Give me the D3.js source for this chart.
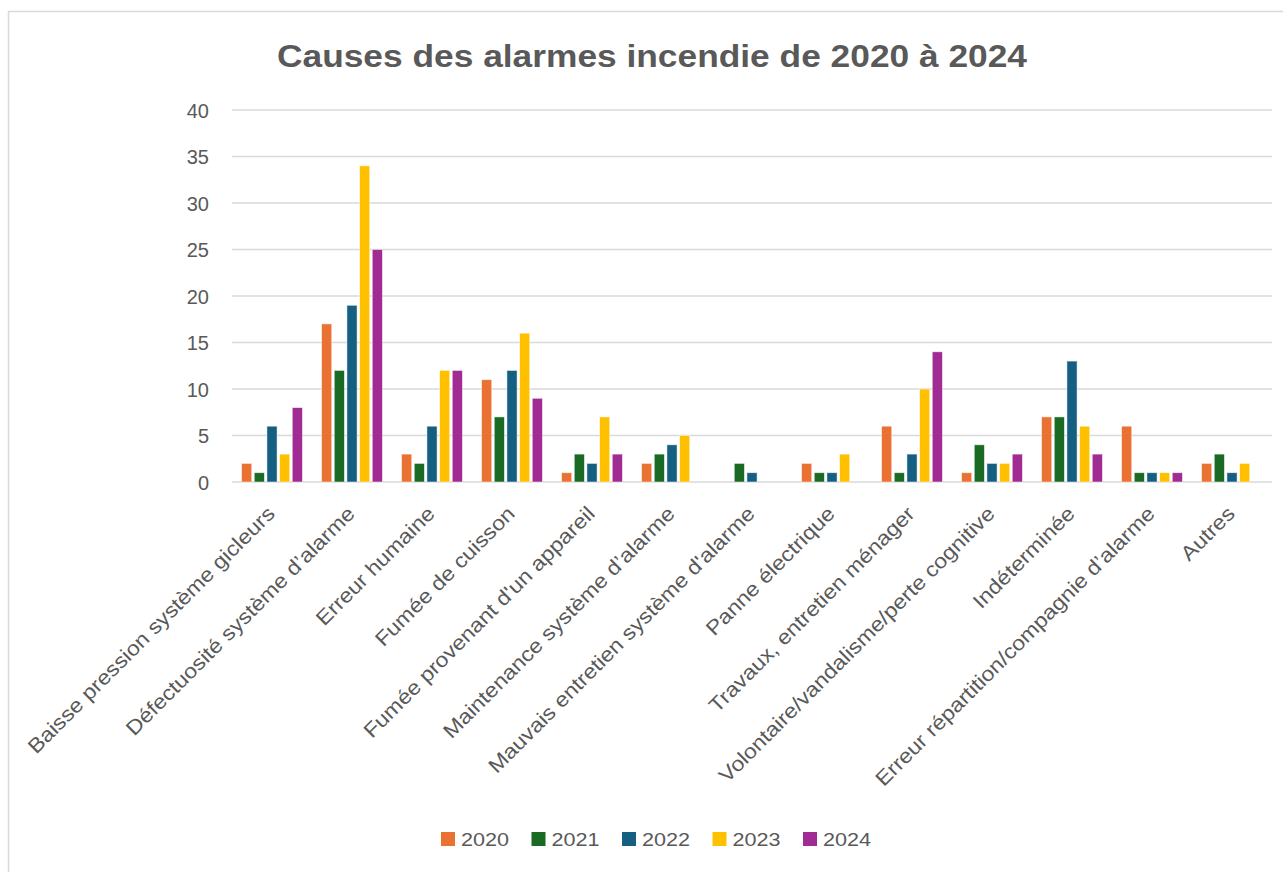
<!DOCTYPE html>
<html><head><meta charset="utf-8">
<script src="https://cdn.jsdelivr.net/npm/d3@7"></script>
<style>body{margin:0;background:#fff;} text{font-family:"Liberation Sans",Arial,sans-serif;}</style>
</head><body>
<svg id="c" width="1283" height="872"></svg>
<script>
const categories = ["Baisse pression système gicleurs","Défectuosité système d’alarme","Erreur humaine","Fumée de cuisson","Fumée provenant d'un appareil","Maintenance système d’alarme","Mauvais entretien système d'alarme","Panne électrique","Travaux, entretien ménager","Volontaire/vandalisme/perte cognitive","Indéterminée","Erreur répartition/compagnie d’alarme","Autres"];
const years = ["2020","2021","2022","2023","2024"];
const v2020 = [2,17,3,11,1,2,0,2,6,1,7,6,2];
const v2021 = [1,12,2,7,3,3,2,1,1,4,7,1,3];
const v2022 = [6,19,6,12,2,4,1,1,3,2,13,1,1];
const v2023 = [3,34,12,16,7,5,0,3,10,2,6,1,2];
const v2024 = [8,25,12,9,3,0,0,0,14,3,3,1,0];
const yTicks = [0,5,10,15,20,25,30,35,40];
const colors = ["#E97132","#196B24","#156082","#FFC000","#A02B93"];
const series = [v2020,v2021,v2022,v2023,v2024];

const svg = d3.select("#c");
const W=1283,H=872;
const pL=232,pR=1272,pT=110,pB=482;
svg.append("path").attr("d",`M8.5,${H}V11.5H${W}`).attr("fill","none").attr("stroke","#d9d9d9").attr("stroke-width",1.5);

const x0 = d3.scaleBand().domain(categories).range([pL,pR]).paddingInner(0.24).paddingOuter(0.12);
const x1 = d3.scaleBand().domain(years).range([0,x0.bandwidth()]).paddingInner(0.2);
const y = d3.scaleLinear().domain([0,40]).range([pB,pT]);

// grid
svg.append("g").selectAll("line").data(yTicks).join("line")
  .attr("x1",pL).attr("x2",pR).attr("y1",d=>y(d)).attr("y2",d=>y(d))
  .attr("stroke","#d9d9d9").attr("stroke-width",1.3);

// y labels
const ya = svg.append("g").attr("transform",`translate(${pL-23},0)`)
  .call(d3.axisLeft(y).tickValues(yTicks).tickSize(0).tickPadding(0));
ya.select(".domain").remove();
ya.selectAll("text").attr("font-size",20).attr("fill","#595959").attr("font-family","Liberation Sans, Arial, sans-serif")
  .attr("dy","0.36em");

// bars
const g = svg.append("g");
categories.forEach((c,i)=>{
  years.forEach((yr,j)=>{
    const v = series[j][i];
    if(v<=0) return;
    g.append("rect").attr("x",x0(c)+x1(yr)).attr("width",x1.bandwidth())
      .attr("y",y(v)).attr("height",y(0)-y(v))
      .attr("fill",colors[j]).attr("stroke","#fff").attr("stroke-opacity",0.6).attr("stroke-width",0.8);
  });
});

// x labels
const xa = svg.append("g").attr("transform",`translate(0,${pB})`)
  .call(d3.axisBottom(x0).tickSize(0).tickPadding(0));
xa.select(".domain").remove();
xa.selectAll("text")
  .attr("font-size",20.5).attr("fill","#595959").attr("font-family","Liberation Sans, Arial, sans-serif")
  .attr("text-anchor","end").attr("dy",null).attr("y",0)
  .attr("transform","translate(4,33) rotate(-45) scale(1.12,1)");

// title
svg.append("text").attr("x",652).attr("y",67).attr("text-anchor","middle")
  .attr("font-size",32).attr("font-weight","bold").attr("fill","#595959")
  .attr("textLength",750).attr("lengthAdjust","spacingAndGlyphs")
  .text("Causes des alarmes incendie de 2020 à 2024");

// legend
const lg = svg.append("g");
years.forEach((yr,j)=>{
  const lx = 441 + j*90.5;
  lg.append("rect").attr("x",lx).attr("y",832).attr("width",14).attr("height",14).attr("fill",colors[j]);
  lg.append("text").attr("x",lx+20).attr("y",846).attr("font-size",19).attr("fill","#595959")
    .attr("textLength",48).attr("lengthAdjust","spacingAndGlyphs").text(yr);
});
</script>
</body></html>
